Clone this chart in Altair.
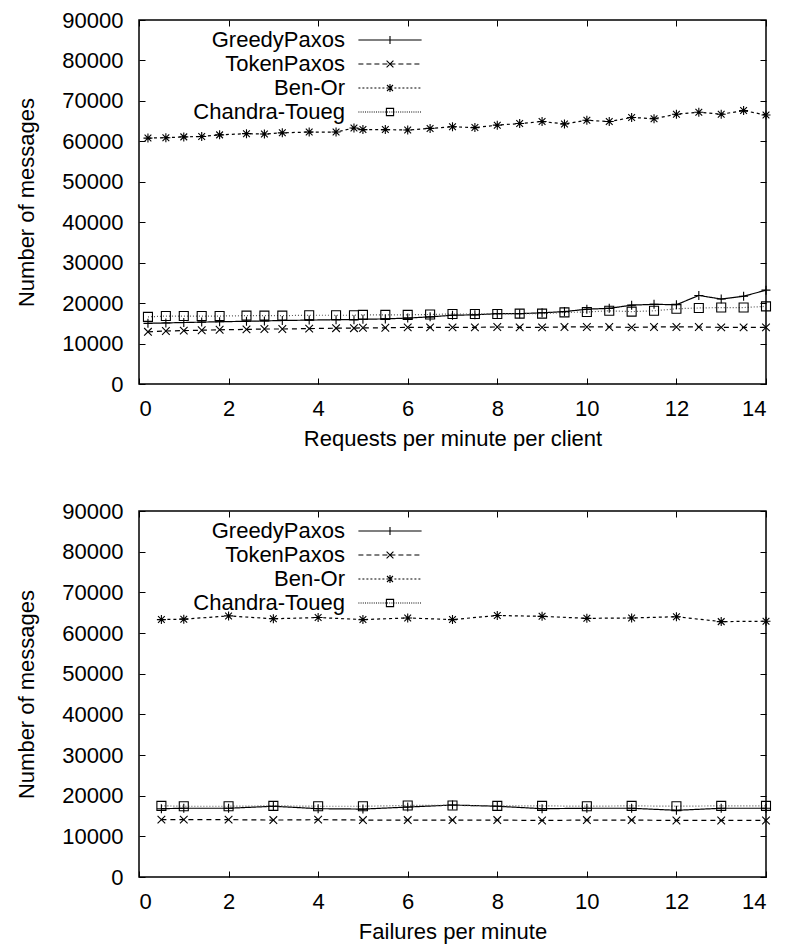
import altair as alt
import pandas as pd

series = ["GreedyPaxos", "TokenPaxos", "Ben-Or", "Chandra-Toueg"]

# ---- top chart: requests per minute per client ----
req_x = [0.2, 0.6, 1.0, 1.4, 1.8, 2.4, 2.8, 3.2, 3.8, 4.4, 4.8, 5.0, 5.5, 6.0, 6.5,
         7.0, 7.5, 8.0, 8.5, 9.0, 9.5, 10.0, 10.5, 11.0, 11.5, 12.0, 12.5, 13.0, 13.5, 14.0]
req_greedy = [15000, 15100, 15200, 15300, 15400, 15500, 15600, 15700, 15800, 15900, 15900,
              16000, 16100, 16300, 16600, 17000, 17100, 17400, 17400, 17600, 17900, 18500,
              18700, 19500, 19700, 19600, 21900, 21000, 21700, 23200]
req_token = [12900, 13100, 13200, 13300, 13400, 13500, 13600, 13600, 13700, 13800, 13800,
             13900, 13900, 14000, 14000, 14000, 14000, 14100, 14000, 14000, 14100, 14100,
             14100, 14000, 14100, 14100, 14100, 14000, 14000, 14000]
req_benor = [60800, 60900, 61100, 61200, 61600, 61900, 61800, 62100, 62300, 62300, 63300,
             62900, 62900, 62800, 63200, 63600, 63400, 64000, 64400, 64900, 64300, 65200,
             64900, 65900, 65600, 66700, 67200, 66700, 67600, 66500]
req_chandra = [16600, 16800, 16800, 16800, 16800, 16900, 16900, 16900, 17000, 17000, 17000,
               17100, 17100, 17100, 17200, 17300, 17300, 17300, 17400, 17400, 17700, 17800,
               18100, 17900, 18100, 18600, 18800, 18900, 18900, 19200]

# ---- bottom chart: failures per minute ----
fail_x = [0.5, 1, 2, 3, 4, 5, 6, 7, 8, 9, 10, 11, 12, 13, 14]
fail_greedy = [16800, 16900, 16900, 17400, 16800, 16700, 17200, 17700, 17400, 16800,
               16900, 16900, 16400, 16900, 16900]
fail_token = [14100, 14100, 14100, 14000, 14100, 14000, 14000, 14000, 14000, 13900,
              14000, 14000, 13900, 13900, 13900]
fail_benor = [63300, 63400, 64200, 63500, 63800, 63300, 63700, 63300, 64300, 64100,
              63600, 63700, 64000, 62800, 62900]
fail_chandra = [17500, 17400, 17400, 17500, 17400, 17400, 17600, 17600, 17500, 17500,
                17400, 17500, 17400, 17500, 17500]

x_ticks = [0, 2, 4, 6, 8, 10, 12, 14]
y_ticks = [0, 10000, 20000, 30000, 40000, 50000, 60000, 70000, 80000, 90000]

FONT = "Liberation Sans"
FS = 22
W = 627

# styles
dash_range = [[1, 0], [5, 4], [3, 3], [1, 2]]
color_range = ["#000000", "#000000", "#000000", "#555555"]
marker_paths = [
    "M-1,0H1M0,-1V1",
    "M-0.85,-0.85L0.85,0.85M-0.85,0.85L0.85,-0.85",
    "M-1,0H1M0,-1V1M-0.75,-0.75L0.75,0.75M-0.75,0.75L0.75,-0.75",
    "M-1,-1H1V1H-1Z",
]


def dashed(half, on, off):
    if off == 0:
        return "M%.3f,0H%.3f" % (-half, half)
    parts = []
    x = -half
    while x < half:
        x2 = min(x + on, half)
        parts.append("M%.3f,0H%.3f" % (x, x2))
        x = x2 + off
    return "".join(parts)


HALF = 7.9  # legend sample half-length in symbol units (4px each)
legend_paths = [
    dashed(HALF, 1, 0) + "M0,-1V1",
    dashed(HALF, 1.25, 0.75) + "M-0.85,-0.85L0.85,0.85M-0.85,0.85L0.85,-0.85",
    dashed(HALF, 0.5, 0.5) + "M0,-1V1M-0.75,-0.75L0.75,0.75M-0.75,0.75L0.75,-0.75",
    dashed(HALF, 0.25, 0.3) + "M-0.9,-0.9H0.9V0.9H-0.9Z",
]


def long_df(xs, cols):
    rows = []
    for name, vals in zip(series, cols):
        for i, (x, v) in enumerate(zip(xs, vals)):
            rows.append({"x": x, "y": v, "series": name, "order": i})
    return pd.DataFrame(rows)


def make_chart(df, x_title, height):
    x_enc = alt.X("x:Q", scale=alt.Scale(domain=[0, 14], nice=False),
                  axis=alt.Axis(values=x_ticks, title=x_title, grid=True,
                                gridDash=[6, height - 12, 6, 3000], ticks=False,
                                domain=False, labelPadding=14, titlePadding=9))
    y_enc = alt.Y("y:Q", scale=alt.Scale(domain=[0, 90000], nice=False),
                  axis=alt.Axis(values=y_ticks, format="d", title="Number of messages",
                                grid=True, gridDash=[6, W - 12, 6, 3000], ticks=False,
                                domain=False, labelPadding=16, titlePadding=23))
    lines = alt.Chart(df).mark_line(strokeWidth=1.2).encode(
        x=x_enc, y=y_enc,
        strokeDash=alt.StrokeDash("series:N", scale=alt.Scale(domain=series, range=dash_range), legend=None),
        color=alt.Color("series:N", scale=alt.Scale(domain=series, range=color_range), legend=None),
        order="order:Q",
    )
    points = alt.Chart(df).mark_point(filled=False, size=81, strokeWidth=1.1, color="black", opacity=1).encode(
        x=x_enc, y=y_enc,
        shape=alt.Shape("series:N", scale=alt.Scale(domain=series, range=marker_paths), legend=None),
    )
    leg = alt.Chart(df).transform_filter("false").mark_point(
        filled=False, size=64, strokeWidth=1.1, color="black", opacity=1).encode(
        x=x_enc, y=y_enc,
        shape=alt.Shape("series:N", scale=alt.Scale(domain=series, range=legend_paths),
                        legend=alt.Legend(title=None, orient="none", legendX=240, legendY=9,
                                          labelAlign="right", labelOffset={"expr": "-56"},
                                          labelFontSize=FS, labelFont=FONT, labelColor="black",
                                          symbolSize=64, symbolStrokeWidth=1.1,
                                          symbolStrokeColor="black", rowPadding=2,
                                          padding=0, labelLimit=400)),
    )
    return alt.layer(lines, points, leg).resolve_scale(shape="independent").properties(
        width=W, height=height)


top = make_chart(long_df(req_x, [req_greedy, req_token, req_benor, req_chandra]),
                 "Requests per minute per client", 364)
bottom = make_chart(long_df(fail_x, [fail_greedy, fail_token, fail_benor, fail_chandra]),
                    "Failures per minute", 366)

chart = alt.vconcat(top, bottom, spacing=127).properties(
    bounds="flush", padding={"left": 7, "top": 0, "right": 5, "bottom": 2}
).configure(font=FONT).configure_view(stroke="black", strokeWidth=1.5).configure_axis(
    labelFontSize=FS, titleFontSize=FS, labelFont=FONT, titleFont=FONT,
    titleFontWeight="normal", labelColor="black", titleColor="black",
    gridColor="black", gridOpacity=1, gridWidth=1,
)

chart.save("out.html", embed_options={"renderer": "svg", "actions": False})
